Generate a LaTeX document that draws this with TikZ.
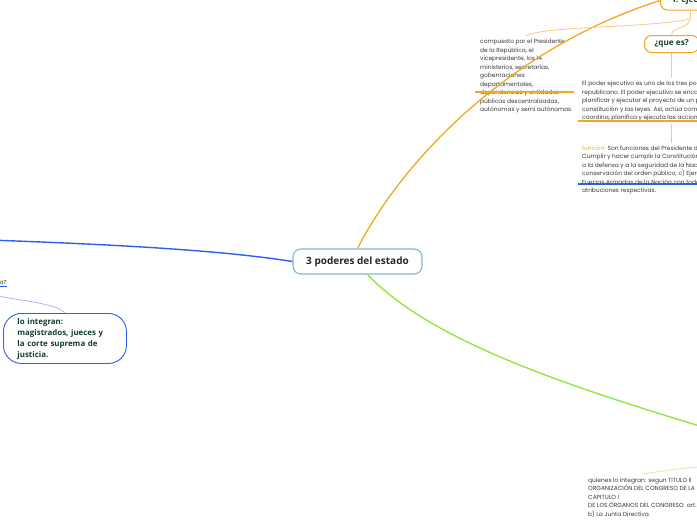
\documentclass[tikz,border=0pt]{standalone}
\usepackage{fontspec}
\setmainfont{Open Sans}
\newfontfamily\notefont{Poppins}
\usetikzlibrary{positioning,calc}
\definecolor{Ink}{HTML}{3A3A3A}
\definecolor{Leaf}{HTML}{123F2A}
\definecolor{Sun}{HTML}{F5A623}
\definecolor{SunSoft}{HTML}{F8CB82}
\definecolor{Sea}{HTML}{2F5FE6}
\definecolor{SeaSoft}{HTML}{9DB3F2}
\definecolor{Sky}{HTML}{7AB8E0}
\definecolor{Lime}{HTML}{8BE832}
\definecolor{LimeSoft}{HTML}{CDF2A6}
\tikzset{
  central/.style={draw=Sky,fill=white,line width=1.1pt,rounded corners=8pt,minimum width=129pt,minimum height=25pt,font=\bfseries\fontsize{10}{12}\selectfont,text=black!85},
  topic/.style={draw=Sun,fill=white,line width=1pt,rounded corners=7pt,minimum height=17pt,inner xsep=10pt,font=\bfseries\fontsize{8.2}{10}\selectfont,text=Leaf},
  pill/.style={draw=Sea,fill=white,line width=.9pt,rounded corners=18pt,minimum width=123pt,minimum height=50pt,align=left,text width=95pt,font=\bfseries\fontsize{7.9}{11}\selectfont,text=Leaf},
  note/.style={align=left,inner xsep=0pt,inner ysep=3pt,font=\notefont\fontsize{5.9}{8.5}\selectfont,text=Ink},
  mainsun/.style={draw=Sun,line width=1.3pt},
  thinsun/.style={draw=SunSoft,line width=.8pt},
  mainsea/.style={draw=Sea,line width=1.4pt},
  thinsea/.style={draw=SeaSoft,line width=.7pt},
  mainlime/.style={draw=Lime,line width=1.3pt},
  thinlime/.style={draw=LimeSoft,line width=.8pt}
}
\begin{document}
\begin{tikzpicture}[x=1pt,y=-1pt]
  \useasboundingbox (0,0) rectangle (697,520);
  \fill[white] (0,0) rectangle (697,520);
  \clip (0,0) rectangle (697,520);

  \node[central] (estado) at (357.5,261.5) {3 poderes del estado};

  \node[topic,anchor=south west,minimum height=19pt,inner xsep=11pt] (ejec) at (660,10.5) {1. ejecutivo};
  \node[topic,anchor=north west] (que) at (644,35) {¿que es?};
  \coordinate (fork) at (690,19);

  \node[note,anchor=north west] (comp) at (480,36) {compuesto por el Presidente\\de la República, el\\vicepresidente, los 14\\ministerios, secretarías,\\gobernaciones\\departamentales,\\dependencias y entidades\\públicas descentralizadas,\\autónomas y semi autónomas.};
  \node[note,anchor=north west] (poder) at (582,78) {El poder ejecutivo es uno de los tres poderes\\republicano. El poder ejecutivo se encarga\\planificar y ejecutar el proyecto de un país\\constitución y las leyes. Así, actúa como un\\coordina, planifica y ejecuta las acciones.};
  \node[note,anchor=north west] (func) at (582,142.5) {{\color{Sun}función:} Son funciones del Presidente de\\Cumplir y hacer cumplir la Constitución y\\a la defensa y a la seguridad de la Nación\\conservación del orden público; c) Ejercer\\Fuerzas Armadas de la Nación con todas\\atribuciones respectivas.};

  \node[note,anchor=base east] (conf) at (7,284) {¿como se conforma?};
  \node[pill,anchor=north west] (integ) at (3,313) {lo integran:\\magistrados, jueces y\\la corte suprema de\\justicia.};

  \node[note,anchor=north west] (quien) at (588,474.5) {quienes lo integran: segun TITULO II\\ORGANIZACIÓN DEL CONGRESO DE LA\\CAPITULO I\\DE LOS ÓRGANOS DEL CONGRESO\ \ art.\\b) La Junta Directiva.};

  \coordinate (judicial) at (-40,239);
  \coordinate (legis) at (740,438);
  \coordinate (congreso) at (740,465);

  \draw[mainsun] (estado.north) .. controls (400,165) and (505,50) .. (ejec.west);
  \draw[thinsun] (ejec.south -| fork) -- (fork);
  \draw[thinsun] (fork) .. controls (650,28) and (540,26) .. (comp.north);
  \draw[thinsun] (fork) .. controls (690,28) and (671,27) .. (que.north);
  \draw[thinsun] (que.south) -- (que.south |- poder.north);
  \draw[thinsun] (que.south |- poder.south) -- (que.south |- func.north);
  \draw[mainsun] (475,92) -- (574,92);
  \draw[mainsun] ([xshift=-4pt,yshift=3.5pt]poder.south west) -- ([yshift=3.5pt]poder.south east);
  \draw[mainsea] (578,184) -- (700,184);

  \draw[mainsea] (estado.west) .. controls (220,250) and (110,244) .. (judicial);
  \draw[mainsea] ([yshift=1.5pt]conf.south west) -- ([yshift=1.5pt]conf.south east);
  \draw[thinsea] (conf.south) .. controls (-15,299) and (55,300) .. (integ.north);

  \draw[mainlime] ([xshift=10pt]estado.south) .. controls (430,340) and (560,385) .. (legis);
  \draw[thinlime] (congreso) .. controls (700,466) and (670,469) .. (quien.north);
\end{tikzpicture}
\end{document}
